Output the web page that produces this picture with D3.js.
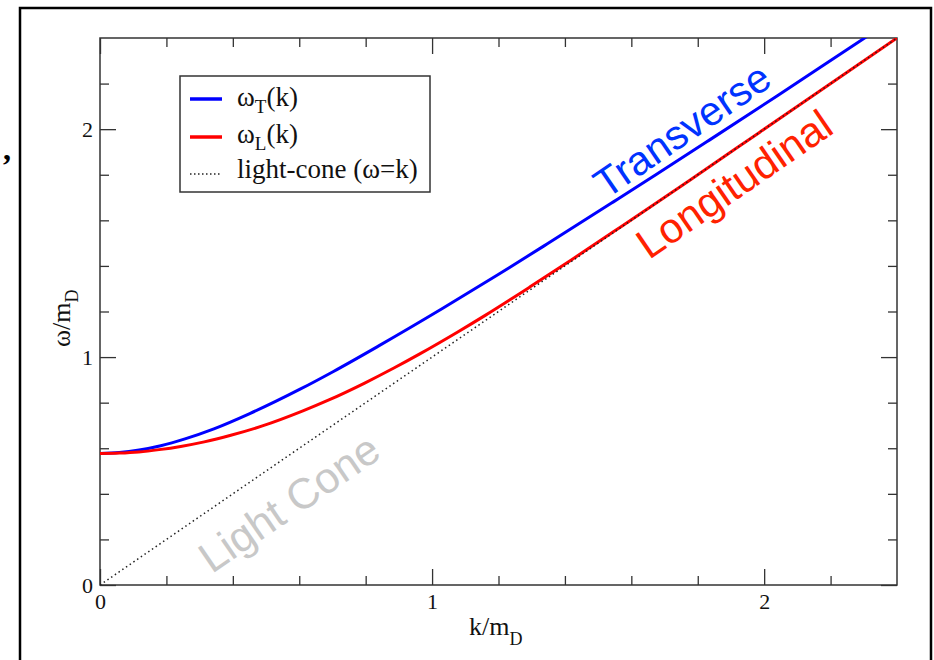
<!DOCTYPE html>
<html>
<head>
<meta charset="utf-8">
<script src="https://cdn.jsdelivr.net/npm/d3@7"></script>
<style>
  html, body { margin: 0; padding: 0; background: #fff; }
  svg { display: block; }
  .serif { font-family: "Liberation Serif", "Times New Roman", serif; }
  .sans { font-family: "Liberation Sans", Arial, sans-serif; }
</style>
</head>
<body>
<svg id="chart" width="934" height="660"></svg>
<script>
// Plasmon dispersion: transverse and longitudinal branches, in units of m_D
const kTransverse = [0, 0.058, 0.118, 0.183, 0.256, 0.343, 0.451, 0.601, 0.703, 0.838, 1.031, 1.198, 1.346, 1.546, 1.676, 1.836, 2.041, 2.167, 2.316];
const wTransverse = [0.577, 0.581, 0.592, 0.611, 0.641, 0.685, 0.752, 0.858, 0.937, 1.048, 1.213, 1.361, 1.496, 1.681, 1.802, 1.953, 2.148, 2.269, 2.413];

const kLongitudinal = [0, 0.058, 0.117, 0.178, 0.243, 0.314, 0.394, 0.489, 0.611, 0.691, 0.797, 0.885, 0.963, 1.076, 1.160, 1.294, 1.418, 1.569, 1.675, 1.775, 1.988, 2.073, 2.4];
const wLongitudinal = [0.577, 0.579, 0.584, 0.594, 0.608, 0.628, 0.657, 0.698, 0.764, 0.813, 0.886, 0.952, 1.014, 1.109, 1.183, 1.307, 1.425, 1.572, 1.676, 1.775, 1.988, 2.073, 2.4];

// Light cone omega = k
const kLightCone = [0, 2.4];
const wLightCone = [0, 2.4];

// Axis ticks
const xMajorTicks = [0, 1, 2];
const yMajorTicks = [0, 1, 2];
const xMinorTicks = [0.2, 0.4, 0.6, 0.8, 1.2, 1.4, 1.6, 1.8, 2.2];
const yMinorTicks = [0.2, 0.4, 0.6, 0.8, 1.2, 1.4, 1.6, 1.8, 2.2];

const svg = d3.select("#chart");
const plotLeft = 100, plotRight = 897, plotTop = 38, plotBottom = 585;

const x = d3.scaleLinear().domain([0, 2.4]).range([plotLeft, plotRight]);
const y = d3.scaleLinear().domain([0, 2.4]).range([plotBottom, plotTop]);

// Outer frame
svg.append("path")
  .attr("d", `M20,670 L20,8 L931,8 L931,670`)
  .attr("fill", "none").attr("stroke", "#000").attr("stroke-width", 2.5);

// Stray comma on the left margin
svg.append("text").attr("class", "serif")
  .attr("x", 3).attr("y", 160)
  .attr("font-size", 32).attr("font-weight", "bold")
  .text(",");

// Clip for curves
svg.append("defs").append("clipPath").attr("id", "plotClip")
  .append("rect").attr("x", plotLeft).attr("y", plotTop)
  .attr("width", plotRight - plotLeft).attr("height", plotBottom - plotTop);

// Axes (ticks point inward on all four sides)
function addAxis(axisFn, transform, values, size, labels) {
  const a = axisFn.tickValues(values).tickSize(-size).tickPadding(labels ? 8 : 0)
    .tickFormat(labels ? d3.format("d") : "");
  const g = svg.append("g").attr("transform", transform).call(a);
  g.select(".domain").remove();
  g.selectAll(".tick line").attr("stroke", "#333").attr("stroke-width", 1.3);
  g.selectAll(".tick text").attr("class", "serif").attr("font-size", 22).attr("fill", "#111");
  return g;
}
addAxis(d3.axisBottom(x), `translate(0,${plotBottom})`, xMajorTicks, 16, true);
addAxis(d3.axisBottom(x), `translate(0,${plotBottom})`, xMinorTicks, 9, false);
addAxis(d3.axisTop(x), `translate(0,${plotTop})`, xMajorTicks, 16, false);
addAxis(d3.axisTop(x), `translate(0,${plotTop})`, xMinorTicks, 9, false);
const yAx = addAxis(d3.axisLeft(y), `translate(${plotLeft},0)`, yMajorTicks, 16, true);
yAx.selectAll(".tick text").attr("x", -7);
addAxis(d3.axisLeft(y), `translate(${plotLeft},0)`, yMinorTicks, 9, false);
addAxis(d3.axisRight(y), `translate(${plotRight},0)`, yMajorTicks, 16, false);
addAxis(d3.axisRight(y), `translate(${plotRight},0)`, yMinorTicks, 9, false);

// Plot frame
svg.append("rect")
  .attr("x", plotLeft).attr("y", plotTop)
  .attr("width", plotRight - plotLeft).attr("height", plotBottom - plotTop)
  .attr("fill", "none").attr("stroke", "#333").attr("stroke-width", 1.5);

// Curves
const line = d3.line().x(d => x(d[0])).y(d => y(d[1])).curve(d3.curveMonotoneX);
const plot = svg.append("g").attr("clip-path", "url(#plotClip)");

plot.append("path")
  .datum(kTransverse.map((k, i) => [k, wTransverse[i]]))
  .attr("d", line).attr("fill", "none")
  .attr("stroke", "#0000ff").attr("stroke-width", 3);

plot.append("path")
  .datum(kLongitudinal.map((k, i) => [k, wLongitudinal[i]]))
  .attr("d", line).attr("fill", "none")
  .attr("stroke", "#ff0000").attr("stroke-width", 3);

plot.append("path")
  .datum(kLightCone.map((k, i) => [k, wLightCone[i]]))
  .attr("d", d3.line().x(d => x(d[0])).y(d => y(d[1])))
  .attr("fill", "none").attr("stroke", "#222")
  .attr("stroke-width", 1.5).attr("stroke-dasharray", "1.5,3");

// In-plot annotations, rotated along the curves
const angle = -Math.atan((y(0) - y(1)) / (x(1) - x(0))) * 180 / Math.PI;
function annotate(text, cx, cy, size, color) {
  svg.append("text").attr("class", "sans")
    .attr("transform", `translate(${cx},${cy}) rotate(${angle})`)
    .attr("text-anchor", "middle").attr("dy", "0.35em")
    .attr("font-size", size).attr("fill", color)
    .text(text);
}
annotate("Transverse", 682, 130, 41, "#0033ff");
annotate("Longitudinal", 734, 184, 42, "#ff2200");
annotate("Light Cone", 289, 503, 43, "#c8c8c8");

// Axis titles
const xt = svg.append("text").attr("class", "serif")
  .attr("x", 469).attr("y", 635).attr("font-size", 26).attr("fill", "#111");
xt.append("tspan").text("k/m");
xt.append("tspan").attr("dy", 10).attr("font-size", 18).text("D");

const yt = svg.append("text").attr("class", "serif")
  .attr("transform", `translate(70,347) rotate(-90)`)
  .attr("font-size", 26).attr("fill", "#111");
yt.append("tspan").text("ω/m");
yt.append("tspan").attr("dy", 8).attr("font-size", 18).text("D");

// Legend
const legend = svg.append("g");
legend.append("rect").attr("x", 180).attr("y", 76).attr("width", 250).attr("height", 116)
  .attr("fill", "#fff").attr("stroke", "#333").attr("stroke-width", 1.5);

const legendItems = [
  { y: 99, base: 106, color: "#0000ff", width: 3.5, dash: null, main: "ω", sub: "T", rest: "(k)" },
  { y: 137, base: 143, color: "#ff0000", width: 3.5, dash: null, main: "ω", sub: "L", rest: "(k)" },
  { y: 174, base: 178, color: "#222", width: 1.3, dash: "1.5,2.5", main: "light-cone (ω=k)", sub: null, rest: null }
];
legendItems.forEach(it => {
  legend.append("line").attr("x1", 190).attr("x2", 222).attr("y1", it.y).attr("y2", it.y)
    .attr("stroke", it.color).attr("stroke-width", it.width)
    .attr("stroke-dasharray", it.dash);
  const t = legend.append("text").attr("class", "serif")
    .attr("x", 237).attr("y", it.base).attr("font-size", 27).attr("fill", "#111");
  t.append("tspan").text(it.main);
  if (it.sub) {
    t.append("tspan").attr("dy", 7).attr("font-size", 19).text(it.sub);
    t.append("tspan").attr("dy", -7).text(it.rest);
  }
});
</script>
</body>
</html>
